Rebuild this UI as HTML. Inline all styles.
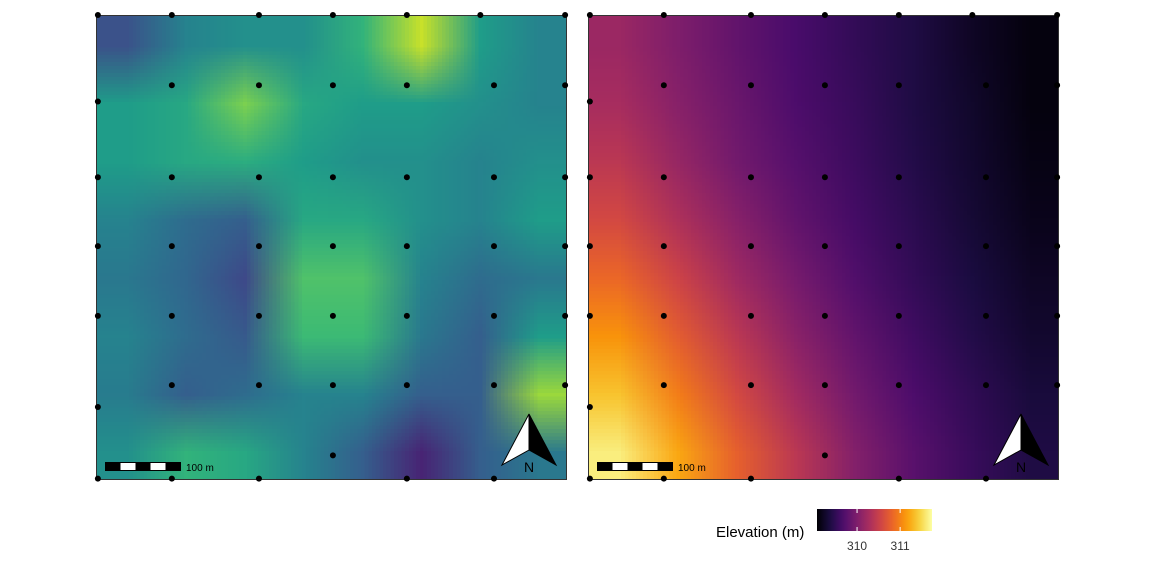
<!DOCTYPE html>
<html><head><meta charset="utf-8">
<style>
html,body{margin:0;padding:0;background:#fff;}
body{width:1152px;height:576px;position:relative;overflow:hidden;font-family:"Liberation Sans",sans-serif;}
canvas{position:absolute;}
svg{position:absolute;left:0;top:0;}
</style></head>
<body>
<canvas id="c1" width="8" height="8" style="left:96px;top:15px;width:471px;height:465px;"></canvas>
<canvas id="c2" width="8" height="8" style="left:588px;top:15px;width:471px;height:465px;"></canvas>
<svg id="ov" width="1152" height="576"></svg>
<script>
// Left panel values (0-1, viridis)
const leftGrid = [
 [0.25,0.45,0.5,0.5,0.65,0.92,0.55,0.45],
 [0.55,0.6,0.8,0.6,0.55,0.55,0.5,0.45],
 [0.55,0.6,0.62,0.55,0.5,0.5,0.45,0.5],
 [0.45,0.35,0.3,0.6,0.6,0.5,0.45,0.55],
 [0.4,0.33,0.22,0.72,0.72,0.45,0.35,0.4],
 [0.45,0.35,0.28,0.68,0.68,0.4,0.3,0.55],
 [0.42,0.3,0.35,0.45,0.45,0.3,0.3,0.85],
 [0.5,0.65,0.6,0.45,0.3,0.1,0.3,0.4]
];
// Right panel elevation (m)
const elevGrid = [
 [310.19,310.00,309.82,309.66,309.52,309.39,309.23,309.12],
 [310.27,310.06,309.87,309.68,309.55,309.39,309.26,309.12],
 [310.41,310.16,309.92,309.74,309.58,309.42,309.28,309.15],
 [310.59,310.32,310.06,309.82,309.63,309.47,309.31,309.18],
 [310.83,310.54,310.22,309.95,309.71,309.52,309.36,309.23],
 [311.10,310.75,310.41,310.08,309.82,309.60,309.42,309.28],
 [311.37,310.97,310.59,310.24,309.92,309.68,309.50,309.34],
 [311.63,311.21,310.78,310.41,310.03,309.76,309.55,309.39]
];
const elevMin = 309.07, elevMax = 311.74;
const legendTicks = [310, 311];
// sample point locations (fraction of panel width/height)
const ptsX = [0.004,0.161,0.346,0.503,0.660,0.845,0.996];
const ptsRows = [0,0.151,0.349,0.497,0.647,0.796,0.947,0.997];
const ptsMask = [
 [1,1,1,1,1,0,1],
 [0,1,1,1,1,1,1],
 [1,1,1,1,1,1,1],
 [1,1,1,1,1,1,1],
 [1,1,1,1,1,1,1],
 [0,1,1,1,1,1,1],
 [0,0,0,1,0,0,0],
 [1,1,1,0,1,1,0]
];
const extraPts = [[0.004,0.186],[0.004,0.843],[0.816,0]];

const viridis=[[68,1,84],[72,40,120],[62,74,137],[49,104,142],[38,130,142],[31,158,137],[53,183,121],[109,205,89],[180,222,44],[253,231,37]];
const inferno=[[0,0,4],[27,12,65],[74,12,107],[120,28,109],[165,44,96],[207,68,70],[237,105,37],[251,155,6],[247,209,61],[252,255,164]];
function cmap(s,v){v=Math.max(0,Math.min(1,v));const f=v*(s.length-1),i=Math.min(s.length-2,Math.floor(f)),t=f-i;return s[i].map((a,k)=>Math.round(a+(s[i+1][k]-a)*t));}
function paint(id,grid,scale,norm){const c=document.getElementById(id),x=c.getContext('2d');const im=x.createImageData(8,8);
 grid.forEach((row,r)=>row.forEach((v,col)=>{const [R,G,B]=cmap(scale,norm(v));const o=(r*8+col)*4;im.data[o]=R;im.data[o+1]=G;im.data[o+2]=B;im.data[o+3]=255;}));x.putImageData(im,0,0);}
paint('c1',leftGrid,viridis,v=>v);
paint('c2',elevGrid,inferno,v=>(v-elevMin)/(elevMax-elevMin));

const NS='http://www.w3.org/2000/svg',svg=document.getElementById('ov');
function mk(t,a,p){const e=document.createElementNS(NS,t);for(const k in a)e.setAttribute(k,a[k]);(p||svg).appendChild(e);return e;}
const W=471,H=465;
[96,588].forEach((ox,pi)=>{
 const g=mk('g',{});
 
 
 const fr=mk('rect',{x:ox+0.5,y:15.5,width:W-1,height:H-1,fill:'none',stroke:'#333','stroke-width':1},g);
 
 
 const pts=[];
 ptsRows.forEach((ry,r)=>ptsX.forEach((rx,c)=>{if(ptsMask[r][c])pts.push([rx,ry]);}));
 extraPts.forEach(p=>pts.push(p));
 pts.forEach(p=>{const d=mk('circle',{cx:ox+p[0]*W,cy:15+p[1]*H,r:3,fill:'#000'},g);
  
  });
 const sb=mk('g',{},g);
 
 
 mk('rect',{x:ox+9.5,y:462.5,width:75,height:8,fill:'#fff',stroke:'#000'},sb);
 [0,2,4].forEach(i=>mk('rect',{x:ox+9.5+i*15,y:462.5,width:15,height:8,fill:'#000'},sb));
 const st=mk('text',{x:ox+90,y:471,'font-size':10,fill:'#000'},sb);st.textContent='100 m';
 const na=mk('g',{},g);
 
 
 const ax=ox+433;
 mk('polygon',{points:`${ax},414 ${ax-27},465 ${ax},450`,fill:'#fff',stroke:'#000','stroke-width':1},na);
 mk('polygon',{points:`${ax},414 ${ax+27},465 ${ax},450`,fill:'#000',stroke:'#000','stroke-width':1},na);
 const nt=mk('text',{x:ax,y:472,'font-size':14,'text-anchor':'middle',fill:'#000'},na);nt.textContent='N';
});
const lg=mk('g',{});


const lt=mk('text',{x:716,y:537,'font-size':15,fill:'#000'},lg);lt.textContent='Elevation (m)';
const defs=mk('defs',{});const gr=mk('linearGradient',{id:'lgr',x1:0,x2:1,y1:0,y2:0},defs);
for(let i=0;i<=20;i++){const [R,G,B]=cmap(inferno,i/20);mk('stop',{offset:i/20,'stop-color':`rgb(${R},${G},${B})`},gr);}
const bx=817,bw=115;
const bar=mk('rect',{x:bx,y:509,width:bw,height:22,fill:'url(#lgr)'},lg);


legendTicks.forEach(t=>{const x=bx+(t-elevMin)/(elevMax-elevMin)*bw;
 mk('line',{x1:x,x2:x,y1:509,y2:513,stroke:'#fff'},lg);mk('line',{x1:x,x2:x,y1:527,y2:531,stroke:'#fff'},lg);
 const tx=mk('text',{x:x,y:550,'font-size':12,'text-anchor':'middle',fill:'#333'},lg);tx.textContent=t;
 
 });
</script>
</body></html>
